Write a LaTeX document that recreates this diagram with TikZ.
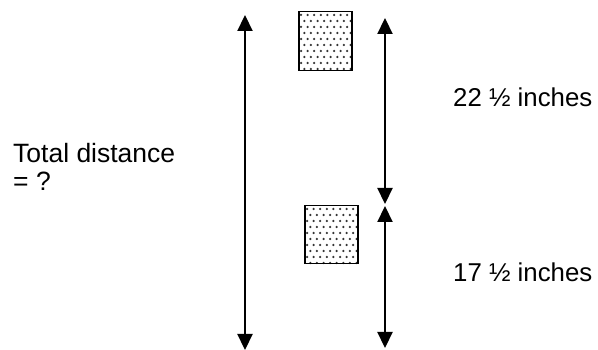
\documentclass[tikz,border=0pt]{standalone}
\usepackage{fontspec}
\setmainfont{Liberation Sans}
\usetikzlibrary{arrows.meta}
\tikzset{
  dim/.style={line width=2.2pt, {Triangle[length=16pt,width=15pt]}-{Triangle[length=16pt,width=15pt]}},
  weight/.style={draw, line width=1.5pt, minimum width=53pt, minimum height=59pt, inner sep=0pt, anchor=north west},
  lbl/.style={font=\fontsize{26.5}{28}\selectfont, inner sep=0pt, align=left},
  rlbl/.style={font=\fontsize{25.8}{28}\selectfont, inner sep=0pt},
  dotc/.style={fill=black!80}
}
\begin{document}
\begin{tikzpicture}[x=1pt,y=-1pt]
\useasboundingbox (0,0) rectangle (598,350);
% weights
\node[weight] (w1) at (298,11) {};
\node[weight, minimum height=58pt] (w2) at (304,205) {};
\begin{scope}
\clip (w1.south west) rectangle (w1.north east);
\foreach \r in {0,...,9}{
  \foreach \c in {0,...,8}{
    \pgfmathsetmacro{\xx}{301+\c*6.6+mod(\r,2)*3.3}
    \pgfmathsetmacro{\yy}{15+\r*6}
    \fill[dotc] (\xx,\yy) circle (1.25pt);
  }
}
\end{scope}
\begin{scope}
\clip (w2.south west) rectangle (w2.north east);
\foreach \r in {0,...,9}{
  \foreach \c in {0,...,8}{
    \pgfmathsetmacro{\xx}{307+\c*6.6+mod(\r,2)*3.3}
    \pgfmathsetmacro{\yy}{209+\r*6}
    \fill[dotc] (\xx,\yy) circle (1.25pt);
  }
}
\end{scope}
\node[weight] at (298,11) {};
\node[weight, minimum height=58pt] at (304,205) {};
% arrow ends
\coordinate (lt) at (245,15);
\coordinate (lb) at (245,350);
\coordinate (rt) at (385,18);
\coordinate (rm1) at (385,204);
\coordinate (rm2) at (385,206);
\coordinate (rb) at (385,348);
\draw[dim] (lt) -- (lb);
\draw[dim] (rt) -- (rm1);
\draw[dim] (rm2) -- (rb);
% labels
\node[lbl, anchor=base west] (total) at (13,191) {Total distance\\= ?};
\node[rlbl, anchor=base west] (d1) at (453,107) {22 ½ inches};
\node[rlbl, anchor=base west] (d2) at (453,282) {17 ½ inches};
\end{tikzpicture}
\end{document}
